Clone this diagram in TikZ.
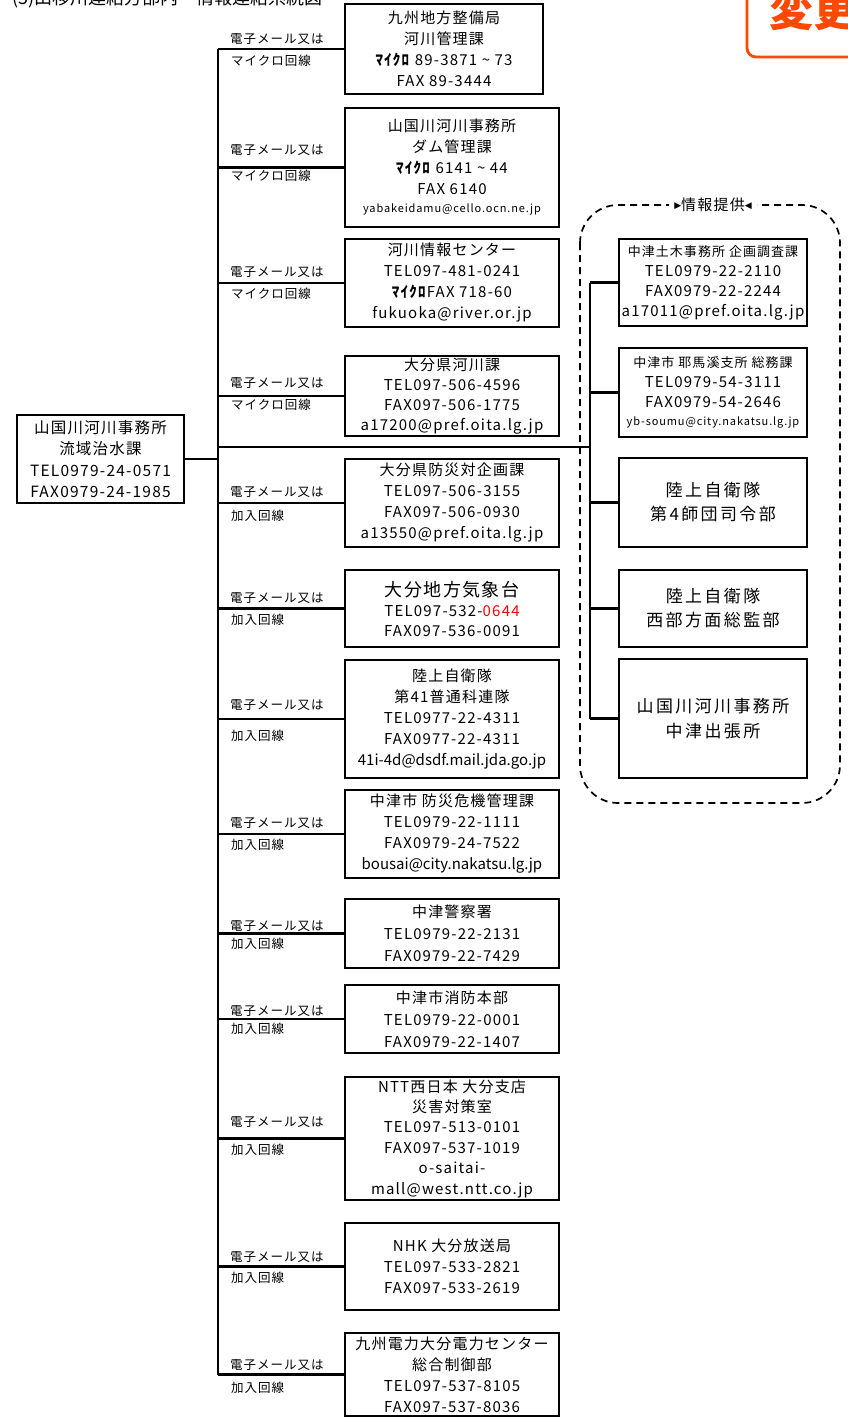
\documentclass[tikz,border=0pt]{standalone}
\usepackage{fontspec}
\setmainfont{Noto Sans CJK JP}
\newfontfamily\jp[LetterSpace=8]{Noto Sans CJK JP}
\newfontfamily\jpw[LetterSpace=14]{Noto Sans CJK JP}
\newfontfamily\dejavu{DejaVu Sans}
\definecolor{chg}{RGB}{255,72,0}
\begin{document}
\begin{tikzpicture}[x=1pt,y=-1pt,
  box/.style={draw, line width=2.7pt, align=center, inner sep=0pt,
    font=\jp\fontsize{15}{21}\selectfont},
  rbox/.style={box, minimum width=188pt},
  lbox/.style={box, minimum width=214pt},
  ln/.style={line width=2.1pt},
  lab/.style={anchor=west, inner sep=0pt, font=\jp\fontsize{12.5}{14}\selectfont}]
\useasboundingbox (0,0) rectangle (848,1418);

% title (clipped at top)
\node[anchor=base west, inner sep=0pt, font=\fontsize{18}{20}\selectfont] (title) at (12,5) {(5)山移川連絡方部内・情報連絡系統図};

% change mark
\draw[chg, line width=2.8pt, rounded corners=9pt] (747,-30) rectangle (890,57);
\node[text=chg, font=\bfseries\fontsize{44}{44}\selectfont, inner sep=0pt] (chgtxt) at (813,10) {変更};

% origin box
\node[box, minimum width=167pt, minimum height=88pt, font=\jp\fontsize{15.5}{21.5}\selectfont] (L) at (100.5,459)
  {山国川河川事務所\\流域治水課\\TEL0979-24-0571\\FAX0979-24-1985};

% left column boxes
\node[box, minimum width=198pt, minimum height=90pt] (b1) at (444,49)
  {九州地方整備局\\河川管理課\\\textbf{ﾏｲｸﾛ} 89-3871 \textasciitilde{} 73\\FAX 89-3444};
\node[lbox, minimum height=119pt] (b2) at (452,167.5)
  {山国川河川事務所\\ダム管理課\\\textbf{ﾏｲｸﾛ} 6141 \textasciitilde{} 44\\FAX 6140\\[-3pt]{\fontsize{11}{13}\selectfont yabakeidamu@cello.ocn.ne.jp}};
\node[lbox, minimum height=88pt] (b3) at (452,283)
  {河川情報センター\\TEL097-481-0241\\\textbf{ﾏｲｸﾛ}FAX 718-60\\fukuoka@river.or.jp};
\node[lbox, minimum height=80pt, font=\jp\fontsize{15}{20}\selectfont] (b4) at (452,396)
  {大分県河川課\\TEL097-506-4596\\FAX097-506-1775\\a17200@pref.oita.lg.jp};
\node[lbox, minimum height=88pt] (b5) at (452,503)
  {大分県防災対企画課\\TEL097-506-3155\\FAX097-506-0930\\a13550@pref.oita.lg.jp};
\node[lbox, minimum height=77pt, font=\jp\fontsize{15}{20}\selectfont] (b6) at (452,608.5)
  {{\fontsize{18}{22}\selectfont 大分地方気象台}\\TEL097-532-\textcolor{red}{0644}\\FAX097-536-0091};
\node[lbox, minimum height=118pt, font=\jp\fontsize{15}{21}\selectfont] (b7) at (452,719)
  {陸上自衛隊\\第41普通科連隊\\TEL0977-22-4311\\FAX0977-22-4311\\{\rmfamily\fontsize{15}{21}\selectfont 41i-4d@dsdf.mail.jda.go.jp}};
\node[lbox, minimum height=88pt] (b8) at (452,834)
  {中津市 防災危機管理課\\TEL0979-22-1111\\FAX0979-24-7522\\{\rmfamily\fontsize{15}{21}\selectfont bousai@city.nakatsu.lg.jp}};
\node[lbox, minimum height=69pt, font=\jp\fontsize{15}{22}\selectfont] (b9) at (452,933.5)
  {中津警察署\\TEL0979-22-2131\\FAX0979-22-7429};
\node[lbox, minimum height=68pt, font=\jp\fontsize{15}{22}\selectfont] (b10) at (452,1019)
  {中津市消防本部\\TEL0979-22-0001\\FAX0979-22-1407};
\node[lbox, minimum height=123pt, font=\jp\fontsize{15}{20.4}\selectfont] (b11) at (452,1138.5)
  {NTT西日本 大分支店\\災害対策室\\TEL097-513-0101\\FAX097-537-1019\\o-saitai-\\mall@west.ntt.co.jp};
\node[lbox, minimum height=87pt] (b12) at (452,1266.5)
  {NHK 大分放送局\\TEL097-533-2821\\FAX097-533-2619};
\node[lbox, minimum height=83pt] (b13) at (452,1374.5)
  {九州電力大分電力センター\\総合制御部\\TEL097-537-8105\\FAX097-537-8036};

% trunk
\coordinate (tk) at (218,0);
\draw[ln] (b1.west -| tk) -- (b13.west -| tk);
\foreach \n in {b1,b2,b3,b4,b5,b6,b7,b8,b9,b10,b11,b12,b13}
  \draw[ln] (\n.west) -- (\n.west -| tk);
\draw[ln] (L.east) -- (L.east -| tk);

% labels
\foreach \i/\ya/\yb/\kind in {1/39/61/マイクロ回線, 2/150/176/マイクロ回線, 3/272/294/マイクロ回線, 4/383/405/マイクロ回線,
  5/492/516/加入回線, 6/598/620/加入回線, 7/705/736/加入回線, 8/823/845/加入回線, 9/926/944/加入回線,
  10/1011/1029/加入回線, 11/1122/1150/加入回線, 12/1257/1278/加入回線, 13/1365/1388/加入回線}{
  \node[lab] (la\i) at (230,\ya) {電子メール又は};
  \node[lab] (lb\i) at (231,\yb) {\kind};
}

% information group
\draw[line width=1.7pt, dash pattern=on 7pt off 5pt, rounded corners=38pt] (580,205) rectangle (840,803);
\node[fill=white, inner xsep=5pt, inner ysep=2pt, font=\jp\fontsize{15}{18}\selectfont] (info) at (713,205)
  {\raisebox{2.5pt}{\dejavu\fontsize{9}{9}\selectfont ▶}情報提供\raisebox{2.5pt}{\dejavu\fontsize{9}{9}\selectfont ◀}};

\node[rbox, minimum height=87pt, font=\jp\fontsize{15}{20}\selectfont] (r1) at (713,282.5)
  {{\fontsize{13}{15}\selectfont 中津土木事務所 企画調査課}\\TEL0979-22-2110\\FAX0979-22-2244\\a17011@pref.oita.lg.jp};
\node[rbox, minimum height=89pt, font=\jp\fontsize{15}{20}\selectfont] (r2) at (713,392.5)
  {{\fontsize{13}{15}\selectfont 中津市 耶馬溪支所 総務課}\\TEL0979-54-3111\\FAX0979-54-2646\\[-2pt]{\fontsize{11}{13}\selectfont yb-soumu@city.nakatsu.lg.jp}};
\node[rbox, minimum height=89pt, font=\jpw\fontsize{17}{24}\selectfont] (r3) at (713,502.5)
  {陸上自衛隊\\第4師団司令部};
\node[rbox, minimum height=77pt, font=\jpw\fontsize{17}{24}\selectfont] (r4) at (713,608.5)
  {陸上自衛隊\\西部方面総監部};
\node[rbox, minimum height=119pt, font=\jpw\fontsize{17}{25}\selectfont] (r5) at (713,718.5)
  {山国川河川事務所\\中津出張所};

\coordinate (rk) at (590,0);
\coordinate (hub) at (218,447);
\draw[line width=2.8pt] (hub) -- (hub -| rk);
\draw[ln] (r1.west -| rk) -- (r5.west -| rk);
\foreach \n in {r1,r2,r3,r4,r5}
  \draw[ln] (\n.west) -- (\n.west -| rk);
\end{tikzpicture}
\end{document}
